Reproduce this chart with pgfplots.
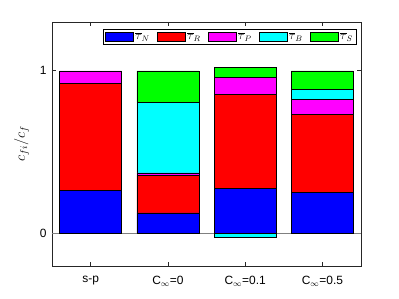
\documentclass[border=0pt]{standalone}
\usepackage{pgfplots}
\pgfplotsset{compat=1.18}
\usepackage{fontspec}
\setmainfont{Liberation Sans}
\definecolor{axgray}{gray}{0.15}
\definecolor{cB}{rgb}{0,0,1}
\definecolor{cR}{rgb}{1,0,0}
\definecolor{cP}{rgb}{1,0,1}
\definecolor{cC}{rgb}{0,1,1}
\definecolor{cG}{rgb}{0,1,0}
\begin{document}
\begin{tikzpicture}
\useasboundingbox (-52bp,-33bp) rectangle (347bp,266bp);
\pgfplotsset{
 common/.style={scale only axis, width=309bp, height=244bp, xmin=0.5, xmax=4.5, ymin=-0.2, ymax=1.3, at={(0,0)}, anchor=south west},
}
\begin{axis}[common, ybar stacked, bar width=0.8,
 xtick={1,2,3,4}, xticklabels={s-p, C$_\infty$=0, C$_\infty$=0.1, C$_\infty$=0.5},
 ytick={0,1}, tick align=inside, axis line style={axgray, line width=0.7pt},
 tick style={axgray, line width=0.7pt}, major tick length=4bp,
 extra y ticks={0}, extra y tick labels={}, extra y tick style={grid=major, major grid style={gray, line width=0.5pt}, major tick length=0pt},
 ylabel={$c_{fi}/c_f$}, ylabel style={font=\fontsize{14}{16}\selectfont, yshift=4bp},
 font=\fontsize{12}{14}\selectfont,
 xticklabel style={yshift=-7bp}, yticklabel style={xshift=-2bp},
 /pgf/number format/assume math mode=true,
 legend columns=5,
 legend style={at={(0.986,0.972)}, anchor=north east, draw=black, line width=0.9pt, inner sep=1.5bp,
   font=\fontsize{12}{14}\selectfont,
   /tikz/every even column/.append style={column sep=5bp}},
 legend image code/.code={\draw[#1, line width=0.5pt] (0bp,-4.5bp) rectangle (28bp,4.5bp);},
]
\addplot[fill=cB, draw=black, line width=0.5pt] coordinates {(1,0.266) (2,0.127) (3,0.279) (4,0.252)};
\addplot[fill=cR, draw=black, line width=0.5pt] coordinates {(1,0.656) (2,0.230) (3,0.576) (4,0.480)};
\addplot[fill=cP, draw=black, line width=0.5pt] coordinates {(1,0.078) (2,0.016) (3,0.104) (4,0.092)};
\addplot[fill=cC, draw=black, line width=0.5pt] coordinates {(1,0) (2,0.433) (3,0) (4,0.062)};
\addplot[fill=cG, draw=black, line width=0.5pt] coordinates {(1,0) (2,0.194) (3,0.064) (4,0.114)};
\legend{$\overline{\tau}_N$, $\overline{\tau}_R$, $\overline{\tau}_P$, $\overline{\tau}_B$, $\overline{\tau}_S$}
\end{axis}
\begin{axis}[common, hide axis, ybar, bar width=0.8]
\addplot[fill=cC, draw=black, line width=0.5pt] coordinates {(3,-0.025)};
\end{axis}
\end{tikzpicture}
\end{document}
